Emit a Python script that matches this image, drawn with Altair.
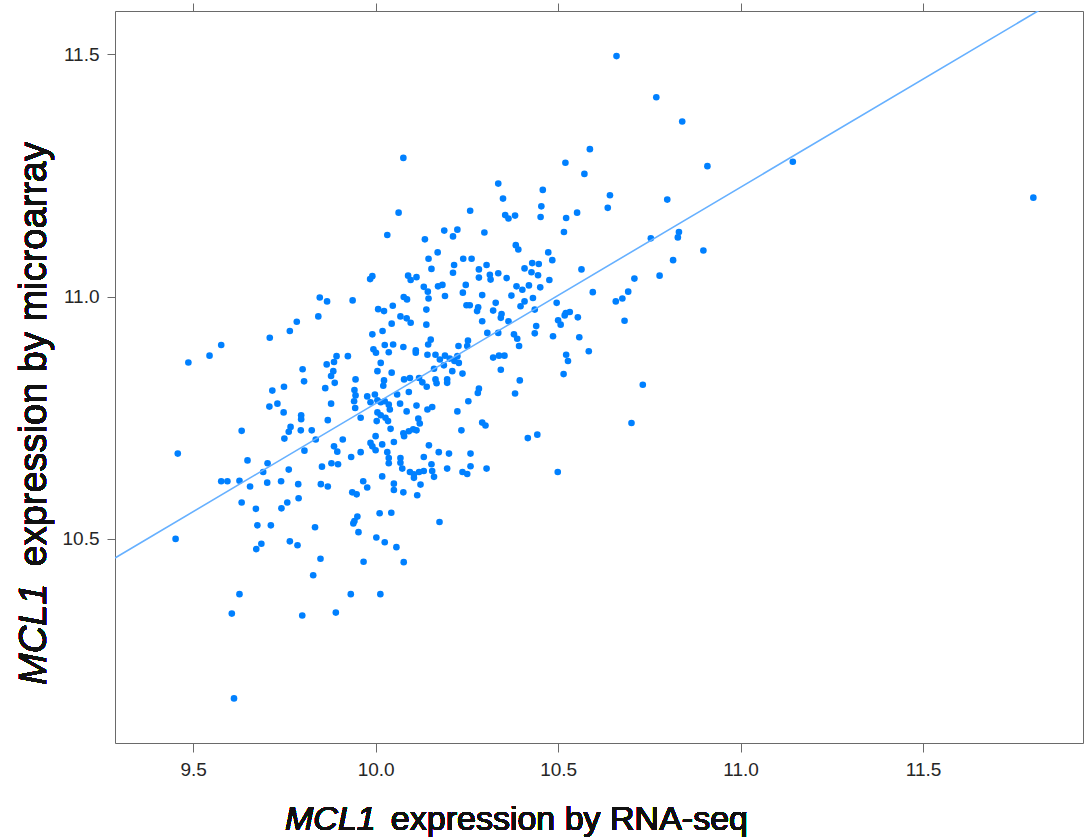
import altair as alt
import pandas as pd

# MCL1 expression by RNA-seq (x) and by microarray (y)
x_rna = [
    9.710, 9.765, 9.577, 9.545, 9.487, 9.893, 9.866, 9.886, 9.800, 9.884,
    9.804, 9.878, 9.888, 9.749, 9.717, 9.862, 9.878, 9.709, 9.731, 9.748,
    9.796, 9.796, 9.869, 9.633, 9.767, 9.762, 9.795, 9.825, 9.750, 9.836,
    9.910, 9.458, 9.805, 9.886, 9.895, 9.649, 9.704, 9.762, 9.853, 9.879,
    9.897, 9.692, 9.577, 9.594, 9.627, 9.656, 9.703, 9.741, 9.788, 9.850,
    9.869, 9.633, 9.758, 9.789, 9.672, 9.742,
    9.452, 9.676, 9.713, 9.834, 9.687, 9.673, 9.765, 9.786, 9.849, 9.829,
    9.627, 9.606, 9.799, 9.891, 9.612,
    9.847, 9.867, 9.843, 9.784,
    10.076, 10.336, 10.349, 10.259, 10.063, 10.355, 10.364, 10.032, 10.188, 10.224,
    10.212, 10.298, 10.135, 10.170, 10.145, 10.240, 10.263, 10.153, 10.215, 10.212,
    10.283, 10.304, 10.283, 10.313, 10.315, 10.336, 10.359, 9.991, 9.985, 10.089,
    10.096, 10.112, 10.132, 10.143, 10.145, 10.171, 10.183, 10.247, 10.239, 10.190,
    10.292, 9.937, 10.077, 10.086, 10.047, 10.007, 10.023, 10.139, 10.068, 10.085,
    10.096, 10.044, 10.019, 9.991, 10.139, 10.249, 10.258, 10.281, 10.278, 10.329,
    10.322, 10.345, 10.343, 10.292, 10.364, 10.306, 10.336,
    10.151, 10.144, 10.025, 10.048, 10.076, 9.994, 10.001, 10.036, 10.110, 10.110,
    10.227, 10.253, 10.251, 9.924, 10.142, 10.164, 10.190, 10.203, 10.224, 10.176,
    10.216, 10.228, 10.187, 10.210, 10.238, 10.322, 10.338, 10.353, 10.343, 10.014,
    10.005, 10.044, 10.160, 9.945, 10.023, 10.021, 10.078, 10.094, 10.119, 10.128,
    10.140, 10.164, 10.167, 10.196, 10.196, 10.283, 10.280, 9.942, 9.945, 9.941,
    9.944, 9.977, 9.998, 9.986, 10.005, 10.014, 10.025, 10.036, 10.039, 10.059,
    10.091, 10.067, 10.112, 10.085, 10.142, 10.155, 10.224, 10.254, 9.959, 10.005,
    10.014, 10.027, 10.003, 10.034, 10.117, 10.121, 10.041, 10.076, 10.091, 10.103,
    10.112, 10.078, 10.235, 10.292, 10.301, 10.000, 9.986, 9.991, 10.000, 10.018,
    10.050, 10.146, 9.959, 9.933, 10.032, 10.036, 10.068, 10.068, 10.132, 10.173,
    10.201, 10.260, 10.036, 10.073, 10.094, 10.105, 10.119, 10.132, 10.153, 10.155,
    10.160, 10.196, 10.260, 10.238, 10.251, 10.304, 10.105, 10.123, 10.018, 9.966,
    9.977, 10.050, 10.050, 10.076, 9.936, 9.948, 10.114,
    9.950, 9.942, 9.939, 10.011, 10.043, 10.175, 9.953, 10.002, 10.025, 10.057,
    9.967, 10.077, 9.932, 10.013,
    10.660, 10.769, 10.840, 10.587, 10.520, 10.572, 10.909, 10.458, 10.454, 10.642,
    10.636, 10.799, 10.552,
    10.382, 10.452, 10.522, 10.516, 10.384, 10.391, 10.473, 10.484, 10.564, 10.754,
    10.831, 10.828, 10.898, 10.815, 10.408, 10.429, 10.447, 10.427, 10.445, 10.476,
    10.386, 10.402, 10.420, 10.451, 10.372, 10.431, 10.408, 10.397, 10.436, 10.496,
    10.595, 10.709, 10.778, 10.692, 10.676, 10.658, 10.682, 10.521, 10.532, 10.518,
    10.554, 10.500, 10.507, 10.440, 10.436, 10.379, 10.388, 10.393, 10.486, 10.558,
    10.584, 10.522,
    10.527, 10.395, 10.382, 10.515, 10.732, 10.701, 10.417, 10.443, 10.499,
    11.143, 11.802,
]
y_array = [
    10.915, 10.929, 10.900, 10.878, 10.864, 10.877, 10.860, 10.865, 10.850, 10.846,
    10.825, 10.836, 10.822, 10.814, 10.806, 10.811, 10.779, 10.773, 10.779, 10.761,
    10.755, 10.747, 10.745, 10.723, 10.731, 10.721, 10.724, 10.724, 10.707, 10.705,
    10.705, 10.676, 10.682, 10.691, 10.680, 10.662, 10.656, 10.643, 10.649, 10.656,
    10.654, 10.638, 10.619, 10.619, 10.620, 10.608, 10.616, 10.619, 10.613, 10.613,
    10.608, 10.575, 10.575, 10.584, 10.562, 10.563,
    10.500, 10.528, 10.528, 10.524, 10.490, 10.479, 10.495, 10.487, 10.459, 10.425,
    10.386, 10.346, 10.342, 10.348, 10.171,
    10.998, 10.990, 10.959, 10.948,
    11.286, 11.233, 11.202, 11.177, 11.173, 11.168, 11.161, 11.127, 11.136, 11.138,
    11.124, 11.132, 11.118, 11.091, 11.078, 11.078, 11.078, 11.057, 11.065, 11.049,
    11.056, 11.065, 11.039, 11.045, 11.035, 11.048, 11.038, 11.042, 11.036, 11.043,
    11.034, 11.040, 11.020, 11.010, 10.996, 11.021, 11.024, 11.024, 11.008, 11.001,
    11.003, 10.992, 10.999, 10.994, 10.981, 10.974, 10.970, 10.973, 10.959, 10.955,
    10.946, 10.944, 10.929, 10.922, 10.942, 10.982, 10.982, 10.978, 10.970, 10.987,
    10.971, 10.964, 10.956, 10.949, 10.949, 10.925, 10.925,
    10.911, 10.901, 10.900, 10.901, 10.896, 10.891, 10.884, 10.885, 10.889, 10.884,
    10.898, 10.909, 10.898, 10.877, 10.880, 10.880, 10.878, 10.872, 10.877, 10.870,
    10.867, 10.863, 10.858, 10.846, 10.841, 10.874, 10.878, 10.878, 10.849, 10.863,
    10.846, 10.843, 10.851, 10.829, 10.827, 10.816, 10.829, 10.832, 10.832, 10.823,
    10.814, 10.829, 10.821, 10.829, 10.822, 10.810, 10.801, 10.807, 10.796, 10.784,
    10.770, 10.794, 10.798, 10.782, 10.786, 10.782, 10.784, 10.777, 10.767, 10.798,
    10.803, 10.779, 10.775, 10.763, 10.767, 10.772, 10.763, 10.784, 10.750, 10.761,
    10.755, 10.750, 10.743, 10.743, 10.748, 10.738, 10.727, 10.718, 10.722, 10.726,
    10.724, 10.712, 10.724, 10.740, 10.734, 10.712, 10.698, 10.691, 10.683, 10.695,
    10.700, 10.693, 10.679, 10.669, 10.679, 10.667, 10.667, 10.657, 10.669, 10.679,
    10.676, 10.676, 10.656, 10.645, 10.638, 10.633, 10.638, 10.640, 10.654, 10.640,
    10.628, 10.645, 10.650, 10.638, 10.634, 10.645, 10.626, 10.612, 10.629, 10.619,
    10.606, 10.614, 10.601, 10.596, 10.596, 10.592, 10.590,
    10.546, 10.537, 10.532, 10.553, 10.554, 10.535, 10.514, 10.503, 10.493, 10.483,
    10.453, 10.452, 10.386, 10.386,
    11.496, 11.411, 11.361, 11.304, 11.276, 11.253, 11.269, 11.220, 11.186, 11.209,
    11.183, 11.200, 11.173,
    11.167, 11.164, 11.162, 11.133, 11.106, 11.097, 11.091, 11.075, 11.056, 11.120,
    11.133, 11.122, 11.095, 11.075, 11.058, 11.069, 11.067, 11.050, 11.044, 11.034,
    11.021, 11.014, 11.023, 11.019, 11.002, 10.997, 10.990, 10.980, 10.973, 10.987,
    11.009, 11.037, 11.043, 11.010, 10.996, 10.990, 10.950, 10.966, 10.968, 10.961,
    10.957, 10.951, 10.942, 10.939, 10.924, 10.922, 10.913, 10.898, 10.918, 10.916,
    10.887, 10.880,
    10.867, 10.827, 10.800, 10.840, 10.818, 10.739, 10.708, 10.715, 10.638,
    11.278, 11.204,
]

x_ticks = [9.5, 10.0, 10.5, 11.0, 11.5]
y_ticks = [10.5, 11.0, 11.5]
x_domain = [9.286, 11.938]
y_domain = [10.079, 11.589]

df = pd.DataFrame({"x": x_rna, "y": y_array})

FONT = "Liberation Sans"
AXIS_COL = "#6a6a6a"
LABEL_COL = "#262626"
TITLE_COL = "#111111"

xs = alt.Scale(domain=x_domain, nice=False, zero=False)
ys = alt.Scale(domain=y_domain, nice=False, zero=False)

pts = alt.Chart(df).mark_circle(size=44, color="#0080ff", opacity=1).encode(
    x=alt.X("x:Q", scale=xs, axis=alt.Axis(
        values=x_ticks, format=".1f", title=None, grid=False, orient="bottom",
        tickSize=9, labelPadding=8, labelFontSize=19, labelFont=FONT,
        labelColor=LABEL_COL, domainColor=AXIS_COL, tickColor=AXIS_COL)),
    y=alt.Y("y:Q", scale=ys, axis=alt.Axis(
        values=y_ticks, format=".1f", title=None, grid=False, orient="left",
        tickSize=8, labelPadding=8, labelFontSize=19, labelFont=FONT,
        labelColor=LABEL_COL, domainColor=AXIS_COL, tickColor=AXIS_COL)),
)

line = alt.Chart(df).transform_regression(
    "x", "y", extent=x_domain
).mark_line(color="#66b0ff", strokeWidth=1.6, clip=True).encode(
    x=alt.X("x:Q", scale=xs, axis=alt.Axis(
        values=x_ticks, labels=False, title=None, grid=False, orient="top",
        tickSize=8, domainColor=AXIS_COL, tickColor=AXIS_COL)),
    y=alt.Y("y:Q", scale=ys, axis=alt.Axis(
        values=y_ticks, labels=False, title=None, grid=False, orient="right",
        tickSize=8, domainColor=AXIS_COL, tickColor=AXIS_COL)),
)

XT_SIZE = 34
YT_SIZE = 38
xt1 = alt.Chart(df).mark_text(
    text="MCL1", font=FONT, fontSize=XT_SIZE, fontStyle="italic",
    align="left", baseline="alphabetic", color=TITLE_COL
).encode(x=alt.value(170), y=alt.value(819))
xt2 = alt.Chart(df).mark_text(
    text="expression by RNA-seq", font=FONT, fontSize=XT_SIZE,
    align="right", baseline="alphabetic", color=TITLE_COL
).encode(x=alt.value(633), y=alt.value(819))
yt1 = alt.Chart(df).mark_text(
    text="MCL1", font=FONT, fontSize=YT_SIZE, fontStyle="italic",
    align="left", baseline="middle", angle=270, color=TITLE_COL
).encode(x=alt.value(-80), y=alt.value(674))
yt2 = alt.Chart(df).mark_text(
    text="expression by microarray", font=FONT, fontSize=YT_SIZE,
    align="right", baseline="middle", angle=270, color=TITLE_COL
).encode(x=alt.value(-80), y=alt.value(131))

chart = alt.layer(pts, line, xt1, xt2, yt1, yt2).resolve_axis(
    x="independent", y="independent"
).properties(
    width=968, height=732,
    autosize=alt.AutoSizeParams(type="none"),
    padding={"left": 115, "top": 11, "right": 1, "bottom": 96},
).configure_view(stroke=None).configure(background="white")

chart.save("out.html", embed_options={"renderer": "svg", "actions": False})
